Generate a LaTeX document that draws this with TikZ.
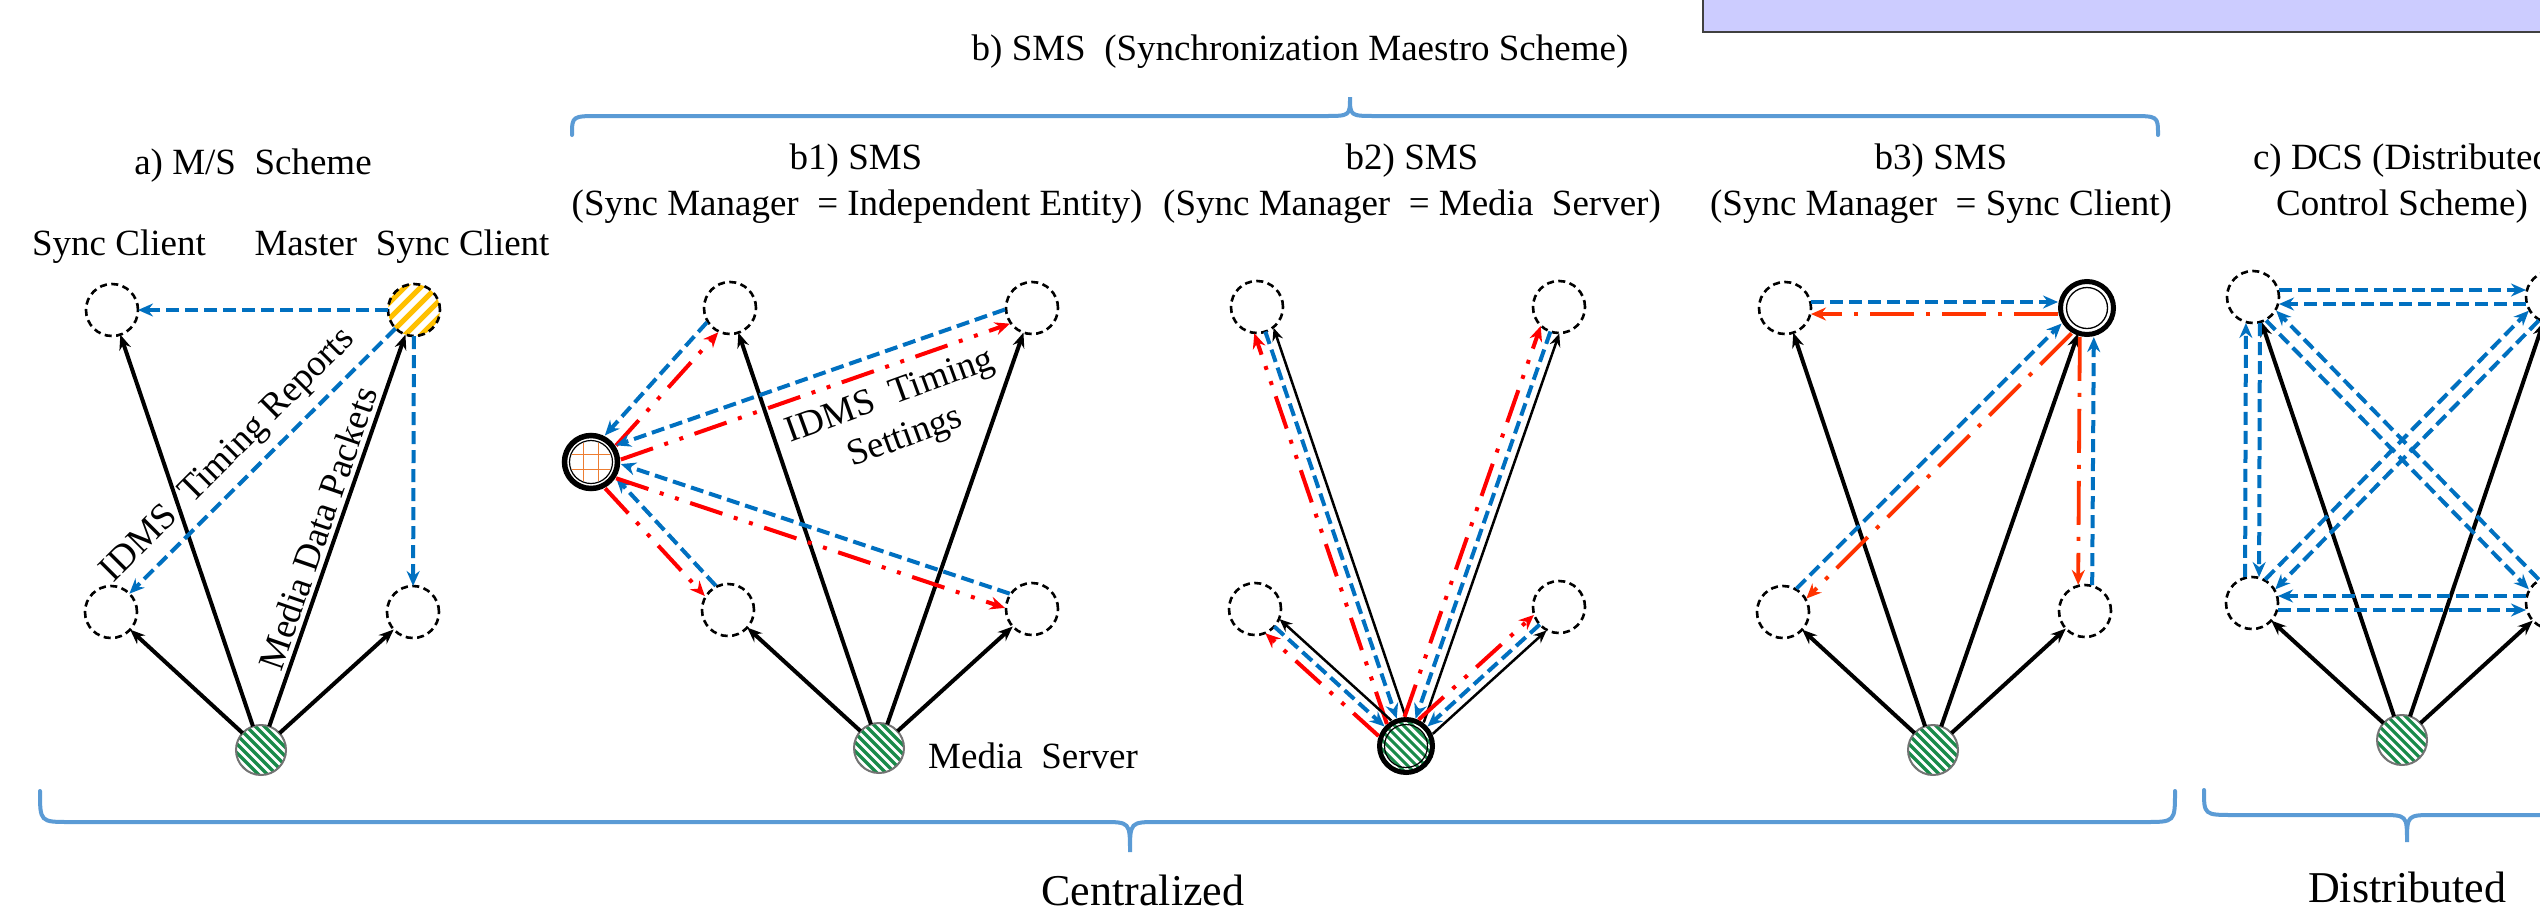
\documentclass[tikz,border=0pt]{standalone}
\usepackage{fontspec}
\setmainfont{Liberation Serif}
\usetikzlibrary{arrows.meta,calc}

\definecolor{bl}{HTML}{0070C0}
\definecolor{rd}{HTML}{FF0000}
\definecolor{rdo}{HTML}{FF3300}
\definecolor{hg}{HTML}{1A8A4A}
\definecolor{hy}{HTML}{FFC000}
\definecolor{og}{HTML}{ED7D31}
\definecolor{brc}{HTML}{5B9BD5}
\definecolor{lav}{HTML}{CCCCFF}

% parallel link: style, from, to, sideways offset (positive = left of direction), start gap, end gap
\newcommand\plink[6]{\draw[#1] ($(#2)!#5!(#3)!#4!90:(#3)$) -- ($(#3)!#6!(#2)!#4!-90:(#2)$);}

\tikzset{
  lbl/.style={font=\fontsize{37}{44}\selectfont, inner sep=0pt},
  big/.style={font=\fontsize{44}{50}\selectfont, inner sep=0pt},
  client/.style={circle, draw, line width=2.6pt, dash pattern=on 7pt off 4.5pt,
    minimum size=52pt, inner sep=0pt, outer sep=0pt},
  greenhatch/.style={path picture={
    \foreach \k in {-8,...,8}{\draw[hg, solid, line width=3.2pt]
      ([xshift=\k*9pt]path picture bounding box.center) ++(-45pt,45pt) -- ++(90pt,-90pt);}}},
  yellowhatch/.style={path picture={
    \foreach \k in {-5,...,5}{\draw[hy, solid, line width=5pt]
      ([xshift=\k*16pt]path picture bounding box.center) ++(-45pt,-45pt) -- ++(90pt,90pt);}}},
  server/.style={circle, draw=black!55, line width=2pt, minimum size=50pt,
    inner sep=0pt, outer sep=0pt, fill=white, greenhatch},
  serverx/.style={circle, draw=black, line width=5pt, minimum size=53pt,
    inner sep=0pt, outer sep=0pt, fill=white, path picture={
    \foreach \k in {-8,...,8}{\draw[hg, solid, line width=3pt]
      ([xshift=\k*9pt]path picture bounding box.center) ++(-45pt,45pt) -- ++(90pt,-90pt);}
    \draw[line width=1.2pt] (path picture bounding box.center) circle[radius=21.5pt];}},
  grid/.style={circle, draw=black, line width=5.5pt, minimum size=53pt,
    inner sep=0pt, outer sep=0pt, fill=white, path picture={
    \begin{scope}
      \clip (path picture bounding box.center) circle[radius=20.5pt];
      \foreach \k in {-22.5,-7.5,7.5,22.5}{
        \draw[og, line width=1.6pt] ([xshift=\k pt]path picture bounding box.center) ++(0pt,-30pt) -- ++(0pt,60pt);
        \draw[og, line width=1.6pt] ([yshift=\k pt]path picture bounding box.center) ++(-30pt,0pt) -- ++(60pt,0pt);}
    \end{scope}
    \draw[line width=1.2pt] (path picture bounding box.center) circle[radius=21.5pt];}},
  ring/.style={circle, draw=black, line width=5pt, minimum size=53pt,
    inner sep=0pt, outer sep=0pt, fill=white, path picture={
    \draw[line width=1.3pt] (path picture bounding box.center) circle[radius=20.5pt];}},
  data/.style={line width=4pt, -{Stealth[length=15pt,width=12pt,inset=5pt]}},
  datathin/.style={line width=2.5pt, -{Stealth[length=13pt,width=11pt,inset=4.5pt]}},
  report/.style={bl, line width=4pt, dash pattern=on 13pt off 6pt,
    -{Stealth[length=15pt,width=13pt,inset=5pt]}},
  setting/.style={rd, line width=4pt, dash pattern=on 34pt off 12pt on 4pt off 12pt on 4pt off 12pt,
    -{Stealth[length=15pt,width=13pt,inset=5pt]}},
  settingb/.style={rdo, line width=3.8pt, dash pattern=on 44pt off 12pt on 4pt off 12pt,
    -{Stealth[length=15pt,width=13pt,inset=5pt]}},
  brace/.style={brc, line width=4pt, line cap=round}
}

\begin{document}
\begin{tikzpicture}[x=1pt,y=-1pt]
\clip (0,0) rectangle (2540,919);
\fill[white] (0,0) rectangle (2540,919);

% banner at the top right
\draw[fill=lav, draw=black!75, line width=2.5pt] (1703,-20) rectangle (2580,32);

% headings
\node[lbl] (ttl) at (1300,52) {b) SMS\ \ (Synchronization Maestro Scheme)};
\node[lbl] (ta) at (253,166) {a) M/S\ \ Scheme};
\node[lbl] (tsc) at (119,247) {Sync Client};
\node[lbl] (tmsc) at (402,247) {Master\ \ Sync Client};
\node[lbl] (tb1) at (856,161) {b1) SMS};
\node[lbl] (tb1s) at (857,207) {(Sync Manager\ \ = Independent Entity)};
\node[lbl] (tb2) at (1412,161) {b2) SMS};
\node[lbl] (tb2s) at (1412,207) {(Sync Manager\ \ = Media\ \ Server)};
\node[lbl] (tb3) at (1941,161) {b3) SMS};
\node[lbl] (tb3s) at (1941,207) {(Sync Manager\ \ = Sync Client)};
\node[lbl] (tc) at (2402,161) {c) DCS (Distributed};
\node[lbl] (tcs) at (2402,207) {Control Scheme)};
\node[lbl] (tms) at (1033,756) {Media\ \ Server};
\node[big] (tcen) at (1143,890) {Centralized};
\node[big] (tdis) at (2407,887) {Distributed};

% braces
\draw[brace] (572,135) .. controls (572,116) .. (600,116) -- (1324,116)
  .. controls (1350,116) .. (1350,97) .. controls (1350,116) .. (1376,116)
  -- (2130,116) .. controls (2158,116) .. (2158,135);
\draw[brace] (40,791) .. controls (40,822) .. (70,822) -- (1102,822)
  .. controls (1130,822) .. (1130,852) .. controls (1130,822) .. (1158,822)
  -- (2145,822) .. controls (2175,822) .. (2175,791);
\draw[brace] (2204,790) .. controls (2204,815) .. (2234,815) -- (2380,815)
  .. controls (2407,815) .. (2407,842) .. controls (2407,815) .. (2434,815)
  -- (2580,815);

% ---------- a) M/S scheme ----------
\node[client] (aTL) at (112,310) {};
\node[client, yellowhatch] (aTR) at (414,310) {};
\node[client] (aBL) at (111,612) {};
\node[client] (aBR) at (413,612) {};
\node[server] (aS) at (261,750) {};
\foreach \n in {aTL,aTR,aBL,aBR} \draw[data] (aS) -- (\n);
\draw[report] (aTR) -- (aTL);
\draw[report] (aTR) -- (aBL);
\draw[report] (aTR) -- (aBR);
\node[lbl, rotate=45] (lrep) at (229,456) {IDMS\ \ Timing Reports};
\node[lbl, rotate=71] (lmdp) at (318,528) {Media Data Packets};

% ---------- b1) manager is an independent entity ----------
\node[client] (bTL) at (730,308) {};
\node[client] (bTR) at (1032,308) {};
\node[client] (bBL) at (728,610) {};
\node[client] (bBR) at (1032,609) {};
\node[server] (bS) at (879,748) {};
\node[grid] (bM) at (591,462) {};
\foreach \n in {bTL,bTR,bBL,bBR}{
  \draw[data] (bS) -- (\n);
  \plink{report}{\n}{bM}{-7.5pt}{26pt}{29pt}
  \plink{setting}{bM}{\n}{-7.5pt}{29pt}{26pt}
}
\node[lbl, rotate=20, align=center] (lset) at (898,418) {IDMS\ \ Timing\\Settings};

% ---------- b2) manager is the media server ----------
\node[client] (cTL) at (1257,307) {};
\node[client] (cTR) at (1559,307) {};
\node[client] (cBL) at (1255,609) {};
\node[client] (cBR) at (1559,607) {};
\node[serverx] (cS) at (1406,746) {};
\foreach \n in {cTL,cTR,cBL,cBR}{
  \plink{datathin}{cS}{\n}{-9pt}{28pt}{25pt}
  \plink{report}{\n}{cS}{0pt}{26pt}{29pt}
  \plink{setting}{cS}{\n}{11pt}{27pt}{24pt}
}

% ---------- b3) manager is a sync client ----------
\node[client] (dTL) at (1785,308) {};
\node[ring] (dM) at (2087,308) {};
\node[client] (dBL) at (1783,612) {};
\node[client] (dBR) at (2085,611) {};
\node[server] (dS) at (1933,750) {};
\foreach \n in {dTL,dM,dBL,dBR} \draw[data] (dS) -- (\n);
\plink{report}{dTL}{dM}{6pt}{26pt}{29pt}
\plink{settingb}{dM}{dTL}{6pt}{29pt}{26pt}
\plink{report}{dBL}{dM}{7pt}{26pt}{29pt}
\plink{settingb}{dM}{dBL}{7pt}{29pt}{26pt}
\plink{settingb}{dM}{dBR}{-7pt}{29pt}{26pt}
\plink{report}{dBR}{dM}{-7pt}{26pt}{29pt}

% ---------- c) distributed control ----------
\node[client] (eTL) at (2253,297) {};
\node[client] (eTR) at (2552,297) {};
\node[client] (eBL) at (2252,603) {};
\node[client] (eBR) at (2552,603) {};
\node[server] (eS) at (2402,740) {};
\foreach \n in {eTL,eTR,eBL,eBR} \draw[data] (eS) -- (\n);
\plink{report}{eTL}{eTR}{7pt}{26pt}{26pt}
\plink{report}{eTR}{eTL}{7pt}{26pt}{26pt}
\plink{report}{eBL}{eTL}{7pt}{26pt}{26pt}
\plink{report}{eTL}{eBL}{7pt}{26pt}{26pt}
\plink{report}{eBL}{eBR}{-7pt}{26pt}{26pt}
\plink{report}{eBR}{eBL}{-7pt}{26pt}{26pt}
\plink{report}{eTL}{eBR}{-7pt}{26pt}{26pt}
\plink{report}{eBR}{eTL}{-7pt}{26pt}{26pt}
\plink{report}{eBL}{eTR}{7pt}{26pt}{26pt}
\plink{report}{eTR}{eBL}{7pt}{26pt}{26pt}
\end{tikzpicture}
\end{document}
